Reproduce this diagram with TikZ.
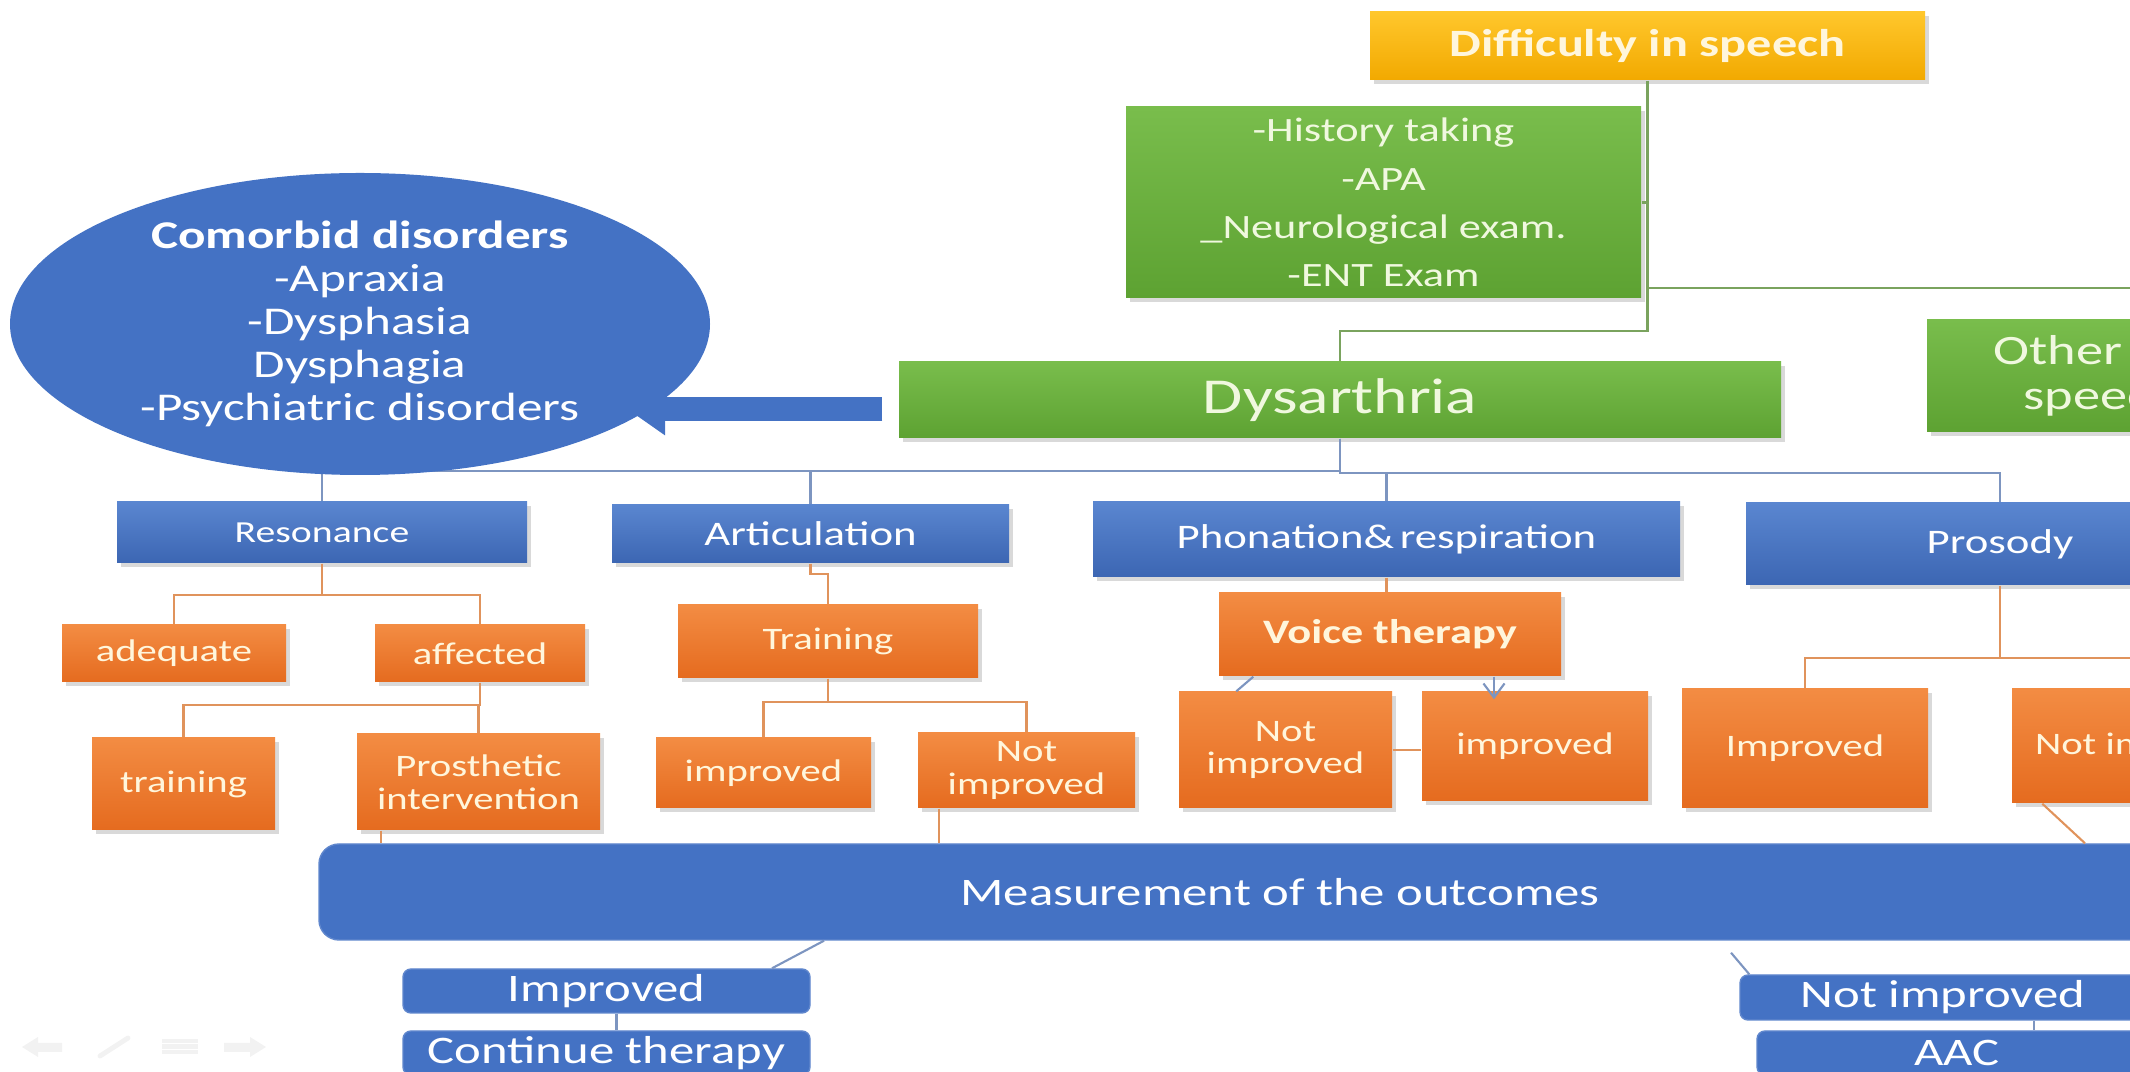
\documentclass[tikz,border=0pt]{standalone}
\usepackage{fontspec}
\setmainfont{Carlito}[FakeStretch=1.3]
\usetikzlibrary{shadows}
\usetikzlibrary{shapes.geometric, arrows.meta, positioning}

\definecolor{goldtop}{HTML}{FFC72C}
\definecolor{goldbot}{HTML}{F2A900}
\definecolor{greentop}{HTML}{79BD4C}
\definecolor{greenbot}{HTML}{5DA232}
\definecolor{bluetop}{HTML}{5A86D0}
\definecolor{bluebot}{HTML}{3C66B3}
\definecolor{orangetop}{HTML}{F38C43}
\definecolor{orangebot}{HTML}{E56B1F}
\definecolor{flatblue}{HTML}{4472C4}
\definecolor{greenline}{HTML}{7AA35E}
\definecolor{blueline}{HTML}{7D95C0}
\definecolor{orangeline}{HTML}{E0935C}
\definecolor{creamtext}{HTML}{FFF6DC}
\definecolor{palegreen}{HTML}{F0F8DF}

\begin{document}
\begin{tikzpicture}[
		boxsize/.style 2 args={minimum width=#1cm, minimum height=#2cm},
		shadowed/.style={drop shadow={shadow xshift=0.035cm, shadow yshift=-0.045cm, opacity=0.3}},
		goldbox/.style={shadowed, top color=goldtop, bottom color=goldbot, text=creamtext, inner sep=0pt, font=\fontsize{11}{13}\selectfont\bfseries},
		greenbox/.style={shadowed, top color=greentop, bottom color=greenbot, text=palegreen, align=center, inner sep=0pt},
		bluebox/.style={shadowed, top color=bluetop, bottom color=bluebot, text=white, inner sep=0pt, font=\fontsize{9.8}{11}\selectfont},
		orangebox/.style={shadowed, top color=orangetop, bottom color=orangebot, text=creamtext, align=center, inner sep=0pt, font=\fontsize{8.9}{9.3}\selectfont},
		outbox/.style={fill=flatblue, draw=flatblue!85!white, rounded corners=0.08cm, text=white, inner sep=0pt, font=\fontsize{11.1}{13}\selectfont},
		greenlink/.style={draw=greenline, line width=0.6pt},
		bluelink/.style={draw=blueline, line width=0.6pt},
		orangelink/.style={draw=orangeline, line width=0.6pt},
	]
		\useasboundingbox (0,0) rectangle (21.30,-10.72);
		\clip (0,0) rectangle (21.30,-10.72);
		
		% Top of the chart
		\node[goldbox, boxsize={5.55}{0.68}] (diff) at (16.475,-0.46) {Difficulty in speech};
		\node[greenbox, boxsize={5.15}{1.91}, font=\fontsize{9.7}{13.7}\selectfont] (hist) at (13.835,-2.025) {-History taking\\-APA\\\_Neurological exam.\\-ENT Exam};
		\node[greenbox, boxsize={8.82}{0.76}, font=\fontsize{14.3}{16}\selectfont] (dys) at (13.40,-4.00) {Dysarthria};
		\node[greenbox, boxsize={4.78}{1.12}, font=\fontsize{11.9}{12.8}\selectfont] (other) at (21.66,-3.76) {Other causes of\\speech delay};
		
		% The four features
		\node[bluebox, boxsize={4.10}{0.61}, font=\fontsize{8.7}{10}\selectfont] (res) at (3.22,-5.325) {Resonance};
		\node[bluebox, boxsize={3.97}{0.58}] (art) at (8.105,-5.34) {Articulation};
		\node[bluebox, boxsize={5.87}{0.75}] (pho) at (13.865,-5.395) {Phonation\&\,respiration};
		\node[bluebox, boxsize={5.08}{0.82}] (pro) at (20.0,-5.44) {Prosody};
		
		% Management
		\node[orangebox, boxsize={2.24}{0.57}] (adq) at (1.74,-6.535) {adequate};
		\node[orangebox, boxsize={2.10}{0.57}] (aff) at (4.80,-6.535) {affected};
		\node[orangebox, boxsize={3.00}{0.73}] (trn) at (8.28,-6.415) {Training};
		\node[orangebox, boxsize={3.42}{0.83}, font=\fontsize{9.75}{11}\selectfont\bfseries] (vth) at (13.90,-6.345) {Voice therapy};
		\node[orangebox, boxsize={1.83}{0.92}] (trg) at (1.835,-7.84) {training};
		\node[orangebox, boxsize={2.43}{0.96}] (pst) at (4.785,-7.82) {Prosthetic\\intervention};
		\node[orangebox, boxsize={2.15}{0.70}] (aim) at (7.635,-7.73) {improved};
		\node[orangebox, boxsize={2.17}{0.75}] (ani) at (10.265,-7.705) {Not\\improved};
		\node[orangebox, boxsize={2.13}{1.16}] (vni) at (12.855,-7.50) {Not\\improved};
		\node[orangebox, boxsize={2.26}{1.09}] (vim) at (15.35,-7.465) {improved};
		\node[orangebox, boxsize={2.46}{1.19}] (pim) at (18.05,-7.485) {Improved};
		\node[orangebox, boxsize={2.74}{1.14}] (pni) at (21.49,-7.46) {Not improved};
		
		% Outcomes
		\node[outbox, boxsize={19.22}{0.96}, rounded corners=0.2cm] (meas) at (12.80,-8.92) {Measurement of the outcomes};
		\node[outbox, boxsize={4.07}{0.44}] (bim) at (6.065,-9.91) {Improved};
		\node[outbox, boxsize={4.07}{0.44}] (cth) at (6.065,-10.53) {Continue therapy};
		\node[outbox, boxsize={4.06}{0.45}] (bni) at (19.43,-9.975) {Not improved};
		\node[outbox, boxsize={4.00}{0.44}] (aac) at (19.57,-10.53) {AAC};
		
		% Connectors of the tree
		\draw[greenlink] (diff.south) -- ++(0,-2.50) -| (dys.north);
		\draw[greenlink] (hist.east) -- (hist.east -| diff.south);
		\draw[greenlink] ([yshift=-2.07cm]diff.south) -| (other.north);
		
		\draw[bluelink] (dys.south) -- ++(0,-0.32) -| (res.north);
		\draw[bluelink] (dys.south) -- ++(0,-0.32) -| (art.north);
		\draw[bluelink] (dys.south) -- ++(0,-0.34) -| (pho.north);
		\draw[bluelink] (dys.south) -- ++(0,-0.34) -| (pro.north);
		
		\draw[orangelink] (res.south) -- ++(0,-0.31) -| (adq.north);
		\draw[orangelink] (res.south) -- ++(0,-0.31) -| (aff.north);
		\draw[orangelink] (aff.south) -- ++(0,-0.22) -| (trg.north);
		\draw[orangelink] (aff.south) -- ++(0,-0.22) -| (pst.north);
		\draw[orangelink] (art.south) -- ++(0,-0.10) -| (trn.north);
		\draw[orangelink] (trn.south) -- ++(0,-0.23) -| (aim.north);
		\draw[orangelink] (trn.south) -- ++(0,-0.23) -| (ani.north);
		\draw[orangelink] (pho.south) -- (pho.south |- vth.north);
		\draw[orangelink] (pro.south) -- ++(0,-0.72) -| (pim.north);
		\draw[orangelink] (pro.south) -- ++(0,-0.72) -| (pni.north);
		
		\draw[bluelink] ([xshift=0.35cm]vth.south west) -- ([xshift=0.58cm]vni.north west);
		\draw[bluelink, -{Straight Barb[length=4pt, width=6pt]}] ([xshift=1.04cm]vth.south) -- ([xshift=1.04cm, yshift=-0.08cm]vth.south |- vim.north);
		\draw[orangelink] (vni.east) -- (vni.east -| vim.west);
		
		% Into the measurement
		\draw[orangelink] ([xshift=0.25cm]pst.south west) -- ([xshift=0.25cm]pst.south west |- meas.north);
		\draw[orangelink] ([xshift=0.22cm]ani.south west) -- ([xshift=0.22cm]ani.south west |- meas.north);
		\draw[orangelink] ([xshift=0.31cm]pni.south west) -- ([xshift=8.05cm]meas.north);
		\draw[bluelink] ([xshift=-4.56cm]meas.south) -- ([xshift=1.655cm]bim.north);
		\draw[bluelink] ([xshift=4.51cm, yshift=-0.12cm]meas.south) -- ([xshift=0.10cm]bni.north west);
		\draw[bluelink] ([xshift=0.10cm]bim.south) -- ([xshift=0.10cm]cth.north);
		\draw[bluelink] ([xshift=0.91cm]bni.south) -- ([xshift=0.91cm]bni.south |- aac.north);
		
		% Comorbid disorders with the block arrow
		\coordinate (tip) at (6.27,-4.09);
		\draw[draw=flatblue, line width=0.24cm, -{Triangle[width=0.50cm, length=0.38cm]}] ([xshift=-0.16cm, yshift=-0.09cm]dys.west) -- (tip);
		\node[ellipse, fill=flatblue, inner sep=0pt, minimum width=7.0cm, minimum height=3.02cm, text=white, align=center, font=\fontsize{11.2}{12.2}\selectfont] (cmb) at (3.60,-3.24) {\textbf{Comorbid disorders}\\-Apraxia\\-Dysphasia\\Dysphagia\\-Psychiatric disorders};
		
		% Faint slide show controls
		\fill[black!5] (0.22,-10.47) -- (0.38,-10.37) -- (0.38,-10.43) -- (0.62,-10.43) -- (0.62,-10.52) -- (0.38,-10.52) -- (0.38,-10.57) -- cycle;
		\draw[black!5, line width=1.4pt, line cap=round] (1.00,-10.56) -- (1.28,-10.38);
		\foreach \y in {-10.41,-10.465,-10.52}
			\draw[black!5, line width=1.2pt] (1.62,\y) -- (1.98,\y);
		\fill[black!5] (2.66,-10.47) -- (2.50,-10.37) -- (2.50,-10.43) -- (2.24,-10.43) -- (2.24,-10.52) -- (2.50,-10.52) -- (2.50,-10.57) -- cycle;
\end{tikzpicture}
\end{document}
